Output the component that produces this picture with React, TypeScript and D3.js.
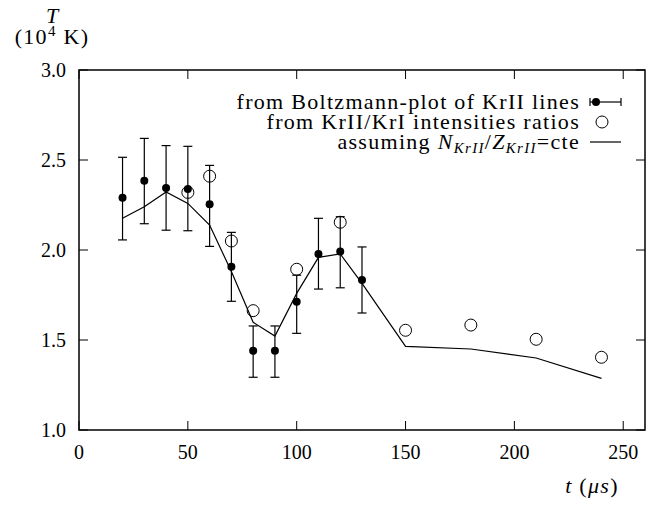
import React from "react";
import * as d3 from "d3";

const boltzT = [20, 30, 40, 50, 60, 70, 80, 90, 100, 110, 120, 130];
const boltzV = [2.29, 2.385, 2.344, 2.339, 2.254, 1.907, 1.44, 1.44, 1.713, 1.978, 1.991, 1.833];
const boltzHi = [2.515, 2.62, 2.58, 2.576, 2.47, 2.098, 1.578, 1.578, 1.86, 2.176, 2.185, 2.017];
const boltzLo = [2.056, 2.146, 2.11, 2.107, 2.02, 1.715, 1.293, 1.293, 1.537, 1.783, 1.79, 1.65];

const ratioT = [50, 60, 70, 80, 100, 120, 150, 180, 210, 240];
const ratioV = [2.32, 2.41, 2.05, 1.663, 1.893, 2.154, 1.554, 1.583, 1.504, 1.404];

const lineT = [20, 30, 40, 50, 60, 70, 80, 90, 100, 110, 120, 130, 150, 180, 210, 240];
const lineV = [2.176, 2.24, 2.322, 2.259, 2.139, 1.88, 1.598, 1.522, 1.759, 1.959, 1.978, 1.815, 1.465, 1.45, 1.4, 1.287];

const xTicks = [0, 50, 100, 150, 200, 250];
const yTicks = [1.0, 1.5, 2.0, 2.5, 3.0];

const W = 651, H = 506;
const L = 79, R = 645, T = 70, B = 430;
const ff = { fontFamily: "Liberation Serif" };
const ffl = { fontFamily: "Liberation Serif", letterSpacing: "1.3px" };

export default function App() {
  const x = d3.scaleLinear().domain([0, 260]).range([L, R]);
  const y = d3.scaleLinear().domain([1, 3]).range([B, T]);
  const line = d3.line<number>().x((_, i) => x(lineT[i])).y((d) => y(d));
  const tk = 9;
  const cap = 4.5;
  const nfs = 20;
  const lfs = 22;
  return (
    <svg width={W} height={H} style={{ position: "absolute", left: 0, top: 0 }}>
      <rect x={0} y={0} width={W} height={H} fill="#fff" />
      {xTicks.map((t) => (
        <g key={"x" + t}>
          <line x1={x(t)} x2={x(t)} y1={B} y2={B - tk} stroke="#000" strokeWidth={1} />
          <line x1={x(t)} x2={x(t)} y1={T} y2={T + tk} stroke="#000" strokeWidth={1} />
          <text x={x(t)} y={B + 29} textAnchor="middle" fontSize={nfs} style={ff}>{t}</text>
        </g>
      ))}
      {yTicks.map((v) => (
        <g key={"y" + v}>
          <line x1={L} x2={L + tk} y1={y(v)} y2={y(v)} stroke="#000" strokeWidth={1} />
          <line x1={R} x2={R - tk} y1={y(v)} y2={y(v)} stroke="#000" strokeWidth={1} />
          <text x={L - 13} y={y(v) + 7} textAnchor="end" fontSize={nfs} style={ff}>{v.toFixed(1)}</text>
        </g>
      ))}
      <rect x={L} y={T} width={R - L} height={B - T} fill="none" stroke="#000" strokeWidth={1.5} />
      <text x={52} y={23} textAnchor="middle" fontSize={lfs} fontStyle="italic" style={ff}>T</text>
      <text x={52} y={44} textAnchor="middle" fontSize={lfs} style={ffl}>
        (10<tspan dy={-8} fontSize={15}>4</tspan><tspan dy={8}>{"\u00a0K)"}</tspan>
      </text>
      <text x={592} y={493} textAnchor="middle" fontSize={lfs} style={ffl}>
        <tspan fontStyle="italic">t</tspan>{" ("}<tspan fontStyle="italic">μs</tspan>)
      </text>
      <path d={line(lineV) || ""} fill="none" stroke="#000" strokeWidth={1.2} />
      {boltzT.map((t, i) => (
        <g key={"e" + t} stroke="#000" strokeWidth={1.2}>
          <line x1={x(t)} x2={x(t)} y1={y(boltzLo[i])} y2={y(boltzHi[i])} />
          <line x1={x(t) - cap} x2={x(t) + cap} y1={y(boltzLo[i])} y2={y(boltzLo[i])} />
          <line x1={x(t) - cap} x2={x(t) + cap} y1={y(boltzHi[i])} y2={y(boltzHi[i])} />
        </g>
      ))}
      {boltzT.map((t, i) => (
        <circle key={"b" + t} cx={x(t)} cy={y(boltzV[i])} r={4} fill="#000" />
      ))}
      {ratioT.map((t, i) => (
        <circle key={"r" + t} cx={x(t)} cy={y(ratioV[i])} r={6} fill="none" stroke="#000" strokeWidth={1} />
      ))}
      <g fontSize={lfs}>
        <text x={580} y={109} textAnchor="end" style={ffl}>from Boltzmann-plot of KrII lines</text>
        <text x={580} y={129} textAnchor="end" style={ffl}>from KrII/KrI intensities ratios</text>
        <text x={580} y={149} textAnchor="end" style={ffl}>
          assuming <tspan fontStyle="italic">N</tspan><tspan fontStyle="italic" fontSize={15} dy={4}>KrII</tspan><tspan dy={-4}>/</tspan><tspan fontStyle="italic">Z</tspan><tspan fontStyle="italic" fontSize={15} dy={4}>KrII</tspan><tspan dy={-4}>=cte</tspan>
        </text>
        <g stroke="#000" strokeWidth={1.2}>
          <line x1={590} x2={621} y1={102} y2={102} />
          <line x1={590} x2={590} y1={98} y2={106} />
          <line x1={621} x2={621} y1={98} y2={106} />
        </g>
        <circle cx={596} cy={102} r={4} fill="#000" />
        <circle cx={602} cy={122} r={6} fill="none" stroke="#000" />
        <line x1={590} x2={621} y1={142} y2={142} stroke="#000" strokeWidth={1.2} />
      </g>
    </svg>
  );
}
